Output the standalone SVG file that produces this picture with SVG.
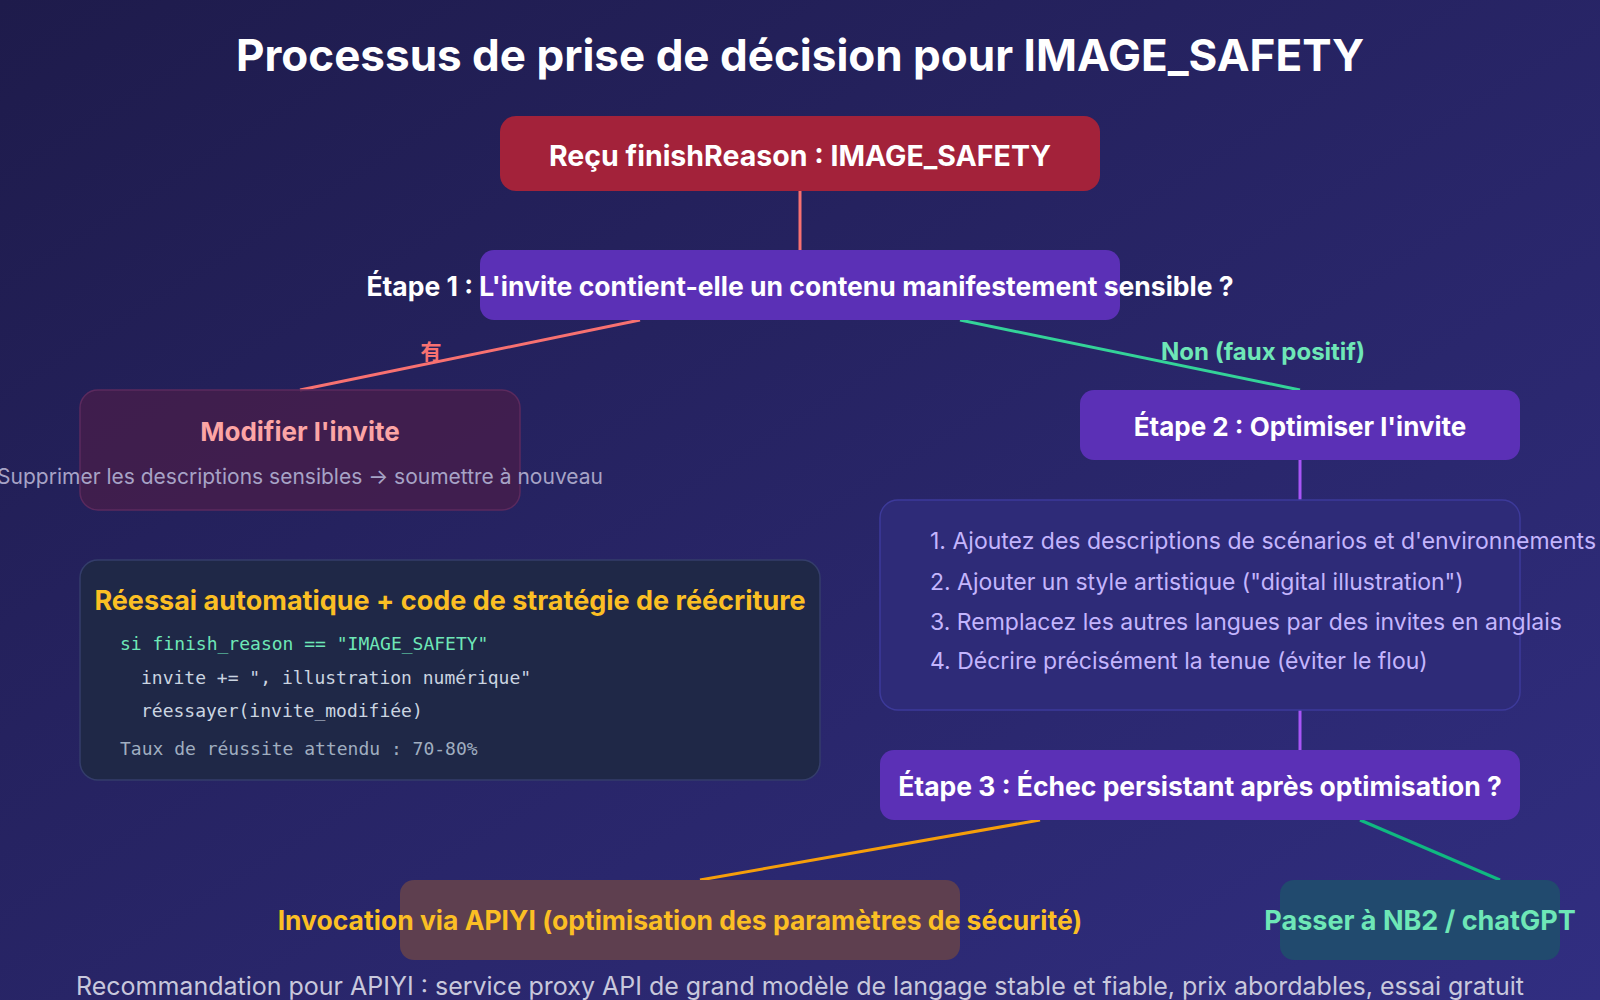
<svg xmlns="http://www.w3.org/2000/svg" width="1600" height="1000" viewBox="0 0 1600 1000">
  <defs>
    <linearGradient id="bg" x1="0" y1="0" x2="1" y2="1">
      <stop offset="0" stop-color="#1e1b4b"/>
      <stop offset="1" stop-color="#312e81"/>
    </linearGradient>
    <style>
      .t{font-family:Inter,"Noto Sans","Liberation Sans","Noto Sans CJK SC",sans-serif}
      .b{font-weight:700}
      .m{font-family:"DejaVu Sans Mono","Liberation Mono",monospace;font-size:18px}
      .step{fill:#5b30b6}
      .wh{fill:#ffffff}
      .ln{fill:none;stroke-width:3}
    </style>
  </defs>
  <rect width="1600" height="1000" fill="url(#bg)"/>
  <text class="t b wh" x="800" y="71" font-size="44" text-anchor="middle">Processus de prise de décision pour IMAGE_SAFETY</text>

  <g id="connectors">
    <line class="ln" x1="800" y1="191" x2="800" y2="250" stroke="#f87171"/>
    <line class="ln" x1="640" y1="320" x2="300" y2="390" stroke="#f87171"/>
    <line class="ln" x1="960" y1="320" x2="1300" y2="390" stroke="#34d399"/>
    <line class="ln" x1="1300" y1="460" x2="1300" y2="500" stroke="#a855f7"/>
    <line class="ln" x1="1300" y1="710" x2="1300" y2="750" stroke="#a855f7"/>
    <line class="ln" x1="1040" y1="820" x2="700" y2="880" stroke="#f59e0b"/>
    <line class="ln" x1="1360" y1="820" x2="1500" y2="880" stroke="#10b981"/>
    <text class="t b" x="431" y="359" font-size="21" text-anchor="middle" fill="#f87171">有</text>
    <text class="t b" x="1263" y="360" font-size="24" text-anchor="middle" fill="#6ee7b7">Non (faux positif)</text>
  </g>

  <g id="start">
    <rect x="500" y="116" width="600" height="75" rx="16" fill="#a3223a"/>
    <text class="t b wh" x="800" y="166" font-size="28.5" text-anchor="middle">Reçu finishReason : IMAGE_SAFETY</text>
  </g>

  <g id="step1">
    <rect class="step" x="480" y="250" width="640" height="70" rx="14"/>
    <text class="t b wh" x="800" y="296" font-size="26.5" text-anchor="middle">Étape 1 : L'invite contient-elle un contenu manifestement sensible ?</text>
  </g>

  <g id="modify">
    <rect x="80" y="390" width="440" height="120" rx="18" fill="#4a1d4a" fill-opacity="0.75" stroke="#5b2a5e" stroke-width="1.5"/>
    <text class="t b" x="300" y="441" font-size="26" text-anchor="middle" fill="#fca5a5">Modifier l'invite</text>
    <text class="t" x="300" y="484" font-size="21" text-anchor="middle" fill="#a7a3c6">Supprimer les descriptions sensibles → soumettre à nouveau</text>
  </g>

  <g id="code">
    <rect x="80" y="560" width="740" height="220" rx="18" fill="#1f2847" stroke="#343d6b" stroke-width="1.5"/>
    <text class="t b" x="450" y="610" font-size="27" text-anchor="middle" fill="#fbbf24">Réessai automatique + code de stratégie de réécriture</text>
    <text class="m" x="120" y="650" fill="#6ee7b7">si finish_reason == "IMAGE_SAFETY"</text>
    <text class="m" x="141" y="684" fill="#cbd5e1">invite += ", illustration numérique"</text>
    <text class="m" x="141" y="717" fill="#cbd5e1">réessayer(invite_modifiée)</text>
    <text class="m" x="120" y="755" fill="#a0aec0">Taux de réussite attendu : 70-80%</text>
  </g>

  <g id="step2">
    <rect class="step" x="1080" y="390" width="440" height="70" rx="14"/>
    <text class="t b wh" x="1300" y="436" font-size="26" text-anchor="middle">Étape 2 : Optimiser l'invite</text>
  </g>

  <g id="tips">
    <rect x="880" y="500" width="640" height="210" rx="18" fill="#2e2b78" stroke="#3d3a9a" stroke-width="1.5"/>
    <text class="t" x="930" y="549" font-size="23" fill="#c4b5fd">1. Ajoutez des descriptions de scénarios et d'environnements</text>
    <text class="t" x="930" y="590" font-size="23" fill="#c4b5fd">2. Ajouter un style artistique ("digital illustration")</text>
    <text class="t" x="930" y="630" font-size="23" fill="#c4b5fd">3. Remplacez les autres langues par des invites en anglais</text>
    <text class="t" x="930" y="669" font-size="23" fill="#c4b5fd">4. Décrire précisément la tenue (éviter le flou)</text>
  </g>

  <g id="step3">
    <rect class="step" x="880" y="750" width="640" height="70" rx="14"/>
    <text class="t b wh" x="1200" y="796" font-size="26.5" text-anchor="middle">Étape 3 : Échec persistant après optimisation ?</text>
  </g>

  <g id="apiyi">
    <rect x="400" y="880" width="560" height="80" rx="14" fill="#5e3f4f"/>
    <text class="t b" x="680" y="930" font-size="26.5" text-anchor="middle" fill="#fbbf24">Invocation via APIYI (optimisation des paramètres de sécurité)</text>
  </g>

  <g id="switch">
    <rect x="1280" y="880" width="280" height="80" rx="14" fill="#214a6e"/>
    <text class="t b" x="1420" y="930" font-size="27" text-anchor="middle" fill="#6ee7b7">Passer à NB2 / chatGPT</text>
  </g>

  <text class="t" x="800" y="995" font-size="25" text-anchor="middle" fill="#c8c8dc">Recommandation pour APIYI : service proxy API de grand modèle de langage stable et fiable, prix abordables, essai gratuit</text>
</svg>
